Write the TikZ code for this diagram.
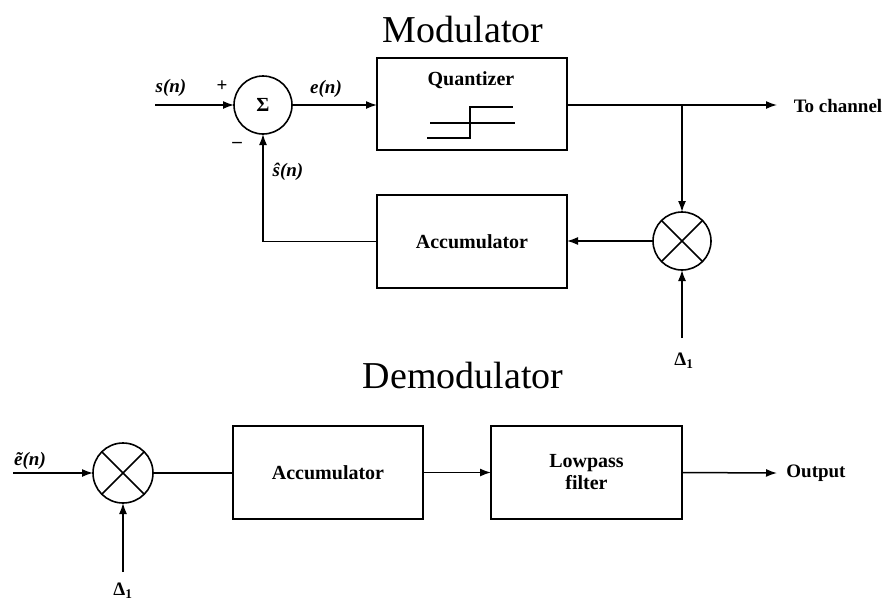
\documentclass[tikz,border=0pt]{standalone}
\usepackage{fontspec}
\setmainfont{Liberation Serif}
\usetikzlibrary{arrows.meta}
\begin{document}
\begin{tikzpicture}[x=1pt,y=-1pt,
  every node/.style={inner sep=0pt,outer sep=0pt},
  ln/.style={line width=1.5pt},
  arr/.style={line width=1.5pt,-{Latex[length=11pt,width=8pt]}},
  blk/.style={draw,line width=1.6pt,rectangle,font=\fontsize{20}{22}\selectfont\bfseries,align=center},
  circ/.style={draw,line width=1.6pt,circle},
  lbl/.style={font=\fontsize{19}{21}\selectfont\bfseries},
  ttl/.style={font=\fontsize{38}{40}\selectfont}
]
\useasboundingbox (0,0) rectangle (893,600);
% titles
\node[ttl] (tmod) at (463,29) {Modulator};
\node[ttl] (tdem) at (463,375) {Demodulator};

% ---------- modulator ----------
\node[circ,minimum size=58pt,font=\fontsize{20}{22}\selectfont\bfseries] (sum) at (263,105) {Σ};
\node[blk,minimum width=190pt,minimum height=92pt] (quant) at (472,104) {};
\node[lbl,font=\fontsize{20}{22}\selectfont\bfseries] (qtxt) at (471,80) {Quantizer};
\node[blk,minimum width=190pt,minimum height=93pt] (macc) at (472,241.5) {Accumulator};
\node[circ,minimum size=58pt] (mmul) at (682,241) {};
\draw[ln] (mmul.45) -- (mmul.225) (mmul.135) -- (mmul.315);
\coordinate (sin) at (155,105);
\coordinate (jn) at (682,105);
\coordinate (tc) at (777,105);
\coordinate (md) at (682,338);

% staircase in quantizer
\draw[line width=1.3pt] (427,138) -- (470,138) -- (470,107) -- (513,107);
\draw[line width=1.3pt] (430,123) -- (515,123);

\draw[arr] (sin) -- (sum.west);
\draw[arr] (sum.east) -- (quant.west |- sum.east);
\draw[ln] (quant.east |- jn) -- (jn);
\draw[arr] (jn) -- (tc);
\draw[arr] (jn) -- (mmul.north);
\draw[arr] (mmul.west) -- (macc.east |- mmul.west);
\draw[arr] (macc.west) -| (sum.south);
\draw[arr] (md) -- (mmul.south);

\node[lbl] (ls) at (171,88) {\itshape s(n)};
\node[lbl] (lp) at (222,86) {+};
\node[lbl] (lm) at (237,145) {\textendash};
\node[lbl] (le) at (326,89) {\itshape e(n)};
\node[lbl] (lsh) at (288,172) {\itshape ŝ(n)};
\node[lbl] (ltc) at (838,106) {To channel};
\node[lbl] (ld1) at (684,361) {Δ\textsubscript{1}};

% ---------- demodulator ----------
\node[circ,minimum size=60pt] (dmul) at (123,473) {};
\draw[ln] (dmul.45) -- (dmul.225) (dmul.135) -- (dmul.315);
\node[blk,minimum width=190pt,minimum height=93pt] (dacc) at (328,472.5) {Accumulator};
\node[blk,minimum width=191pt,minimum height=93pt] (lpf) at (586.5,472.5) {Lowpass\\filter};
\coordinate (ein) at (13,473);
\coordinate (dd) at (123,572);
\coordinate (out) at (777,473);

\draw[arr] (ein) -- (dmul.west);
\draw[arr] (dd) -- (dmul.south);
\draw[ln] (dmul.east) -- (dacc.west |- dmul.east);
\draw[arr] (dacc.east) -- (lpf.west);
\draw[arr] (lpf.east) -- (out);

\node[lbl] (lei) at (30,461) {\itshape ẽ(n)};
\node[lbl] (lout) at (816,473) {Output};
\node[lbl] (ld2) at (123,591) {Δ\textsubscript{1}};
\end{tikzpicture}
\end{document}
